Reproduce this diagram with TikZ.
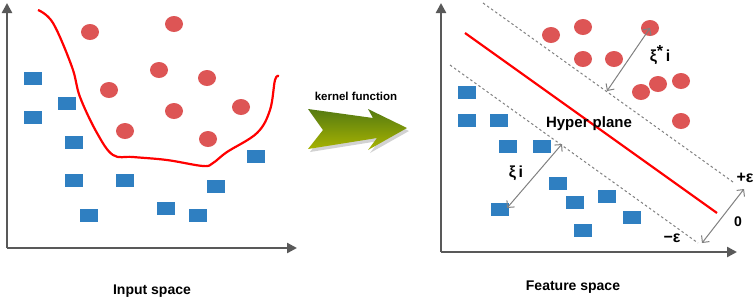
\documentclass[tikz,border=0pt]{standalone}
\usepackage{fontspec}
\setmainfont{Liberation Sans}
\usepackage{tikz}
\usetikzlibrary{arrows.meta, positioning, shapes.geometric}

\definecolor{dotred}{HTML}{DD5555}
\definecolor{boxblue}{HTML}{2F7FC1}
\definecolor{axisgray}{HTML}{595959}
\definecolor{kdark}{HTML}{557A12}
\definecolor{klight}{HTML}{A8B400}

\begin{document}
\begin{tikzpicture}[x=1pt, y=-1pt,
    dot/.style={ellipse, fill=dotred, minimum width=18pt, minimum height=16pt, inner sep=0pt},
    box/.style={rectangle, fill=boxblue, minimum width=18pt, minimum height=13pt, inner sep=0pt},
    axis/.style={draw=axisgray, line width=2.4pt, -{Triangle[length=10pt, width=10pt]}},
    gap/.style={draw=gray, line width=1pt, {Straight Barb[length=5pt]}-{Straight Barb[length=5pt]}},
    margin/.style={draw=gray, line width=1pt, dash pattern=on 2.5pt off 2.5pt},
    lbl/.style={font=\fontsize{14}{16}\selectfont\bfseries, inner sep=0pt}]
    \useasboundingbox (0,0) rectangle (754,301);

    % input space
    \coordinate (o1) at (7,248);
    \coordinate (y1) at (7,3);
    \coordinate (x1) at (297,248);
    \draw [axis] (o1) -- (y1);
    \draw [axis] (o1) -- (x1);
    \draw [red, line width=2.2pt] plot[smooth, tension=0.6] coordinates {(38,10) (53,23) (72,67) (80,97) (97,133) (113,155) (133,157) (167,160) (203,166) (213,163) (227,152) (257,133) (270,110) (275,80) (279,76)};
    \foreach \p [count=\i] in {(90,32),(174,24),(159,70),(207,78),(109,90),(174,111),(241,107),(125,131),(208,139)}
        \node (a\i) [dot] at \p {};
    \foreach \p [count=\i] in {(33,78),(67,103),(33,117),(74,142),(74,180),(125,180),(216,186),(256,156),(89,215),(166,208),(198,215)}
        \node (b\i) [box] at \p {};
    \node (input) [lbl] at (152,291) {Input space};

    % kernel arrow
    \fill [gray!35] (310,112) -- (375,121) -- (370,112) -- (409,131) -- (370,153) -- (379,141) -- (310,152) -- (325,133) -- cycle;
    \shade [top color=kdark, bottom color=klight] (308,109) -- (373,118) -- (368,109) -- (407,128) -- (368,150) -- (377,138) -- (308,149) -- (323,130) -- cycle;
    \node (kernel) [font=\fontsize{11.5}{13}\selectfont\bfseries, inner sep=0pt] at (356,96) {kernel function};

    % feature space
    \coordinate (o2) at (441,252);
    \coordinate (y2) at (441,3);
    \coordinate (x2) at (737,252);
    \draw [axis] (o2) -- (y2);
    \draw [axis] (o2) -- (x2);
    \coordinate (h1) at (465,33);
    \coordinate (h2) at (717,213);
    \coordinate (u1) at (483,3);
    \coordinate (u2) at (733,182);
    \coordinate (l1) at (450,65);
    \coordinate (l2) at (698,243);
    \draw [margin] (u1) -- (u2);
    \draw [margin] (l1) -- (l2);
    \draw [red, line width=2.2pt] (h1) -- (h2);
    \foreach \p [count=\i] in {(551,35),(583,27),(650,28),(583,59),(614,59),(641,92),(658,84),(681,81),(681,121)}
        \node (c\i) [dot] at \p {};
    \foreach \p [count=\i] in {(467,92),(467,120),(499,120),(508,146),(542,146),(558,183),(607,196),(575,202),(500,209),(632,217),(583,230)}
        \node (d\i) [box] at \p {};
    \node (hyper) [lbl, font=\fontsize{15}{17}\selectfont\bfseries] at (589,124) {Hyper plane};

    \coordinate (s1) at (607,91);
    \coordinate (s2) at (650,28);
    \draw [gap] (s1) -- (s2);
    \node (xistar) [lbl, font=\fontsize{16}{18}\selectfont\bfseries] at (660,55) {ξ\raisebox{5pt}{*}\,i};
    \coordinate (t1) at (507,208);
    \coordinate (t2) at (562,144);
    \draw [gap] (t1) -- (t2);
    \node (xi) [lbl, font=\fontsize{16}{18}\selectfont\bfseries] at (516,173) {ξ\,i};
    \coordinate (e1) at (702,243);
    \coordinate (e2) at (744,189);
    \draw [gap] (e1) -- (e2);
    \node (zero) [lbl] at (738,222) {0};
    \node (plus) [lbl, font=\fontsize{16}{18}\selectfont\bfseries] at (745,178) {+ε};
    \node (minus) [lbl, font=\fontsize{16}{18}\selectfont\bfseries] at (672,238) {−ε};
    \node (feature) [lbl] at (573,287) {Feature space};
\end{tikzpicture}
\end{document}
